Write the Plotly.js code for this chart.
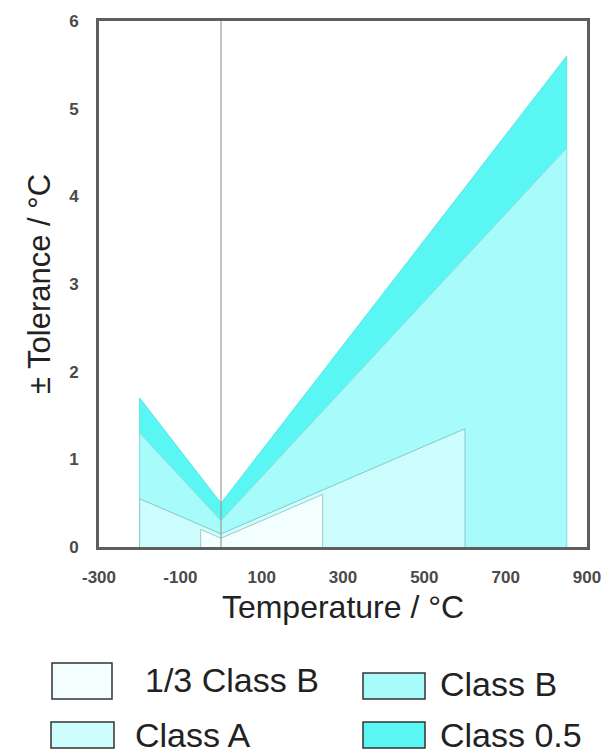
<!DOCTYPE html>
<html>
<head>
<meta charset="utf-8">
<script src="https://cdn.plot.ly/plotly-3.0.1.min.js"></script>
<style>html,body{margin:0;padding:0;background:#fff;}#chart{width:613px;height:753px;}</style>
</head>
<body>
<div id="chart"></div>
<script>
// ---- Data ----
const seriesNames = ["Class 0.5", "Class B", "Class A", "1/3 Class B"];
const class05Temp = [-200, -200, 0, 850, 850];
const class05Tol  = [0, 1.7, 0.5, 5.6, 0];
const classBTemp  = [-200, -200, 0, 850, 850];
const classBTol   = [0, 1.3, 0.3, 4.55, 0];
const classATemp  = [-200, -200, 0, 600, 600];
const classATol   = [0, 0.55, 0.15, 1.35, 0];
const thirdBTemp  = [-50, -50, 0, 250, 250];
const thirdBTol   = [0, 0.2, 0.1, 0.6, 0];
const xTickVals   = [-300, -100, 100, 300, 500, 700, 900];
const xTickText   = ["-300", "-100", "100", "300", "500", "700", "900"];
const yTickVals   = [0, 1, 2, 3, 4, 5, 6];

// ---- Styles ----
const fills = {"Class 0.5": "#5af6f4", "Class B": "#a7fbfb", "Class A": "#cdfdfd", "1/3 Class B": "#f3ffff"};
const edges = {"Class 0.5": "#55e8e6", "Class B": "#92dede", "Class A": "#86c8c8", "1/3 Class B": "#9acccc"};
const FONT = "Liberation Sans, Arial, sans-serif";

function area(name, xs, ys) {
  return {
    type: "scatter", mode: "lines", name: name,
    x: xs, y: ys, fill: "toself",
    fillcolor: fills[name],
    line: {color: edges[name], width: 1},
    hoverinfo: "skip", showlegend: false
  };
}

const traces = [
  area(seriesNames[0], class05Temp, class05Tol),
  area(seriesNames[1], classBTemp, classBTol),
  area(seriesNames[2], classATemp, classATol),
  area(seriesNames[3], thirdBTemp, thirdBTol)
];

// plot area in pixels
const W = 613, H = 753, L = 99, R = 587, T = 21, B = 547;
const px2x = p => (p - L) / (R - L);
const px2y = p => (B - p) / (B - T);

// manual legend
const legendItems = [
  {name: "1/3 Class B", box: [52, 663, 112, 699], tx: 143, ty: 680},
  {name: "Class B",     box: [363, 673, 425, 699], tx: 438, ty: 684},
  {name: "Class A",     box: [51, 722, 114, 748], tx: 133, ty: 735},
  {name: "Class 0.5",   box: [363, 722, 425, 748], tx: 438, ty: 735}
];
const shapes = [
  {type: "line", xref: "x", yref: "paper", x0: 0, x1: 0, y0: 0, y1: 1,
   line: {color: "#9a9a9a", width: 1.2}, layer: "above"}
];
const annotations = [];
legendItems.forEach(it => {
  shapes.push({type: "rect", xref: "paper", yref: "paper",
    x0: px2x(it.box[0]), x1: px2x(it.box[2]), y0: px2y(it.box[3]), y1: px2y(it.box[1]),
    fillcolor: fills[it.name], line: {color: "#333", width: 1.5}});
  annotations.push({xref: "paper", yref: "paper", x: px2x(it.tx), y: px2y(it.ty),
    xanchor: "left", yanchor: "middle", showarrow: false, text: it.name,
    font: {family: FONT, size: 34, color: "#222"}});
});

const layout = {
  width: W, height: H,
  margin: {l: L, r: W - R, t: T, b: H - B, pad: 0},
  paper_bgcolor: "#fff", plot_bgcolor: "#fff",
  showlegend: false,
  font: {family: FONT},
  xaxis: {
    range: [-300, 900], tickvals: xTickVals, ticktext: xTickText,
    showline: true, mirror: true, linecolor: "#5e5e5e", linewidth: 3,
    showgrid: false, zeroline: false,
    ticks: "outside", ticklen: 13, tickcolor: "rgba(0,0,0,0)",
    tickfont: {family: FONT, size: 17, color: "#4a4a4a", weight: "bold"},
    title: {text: "Temperature / °C", font: {family: FONT, size: 32, color: "#222"}, standoff: 10}
  },
  yaxis: {
    range: [0, 6], tickvals: yTickVals,
    showline: true, mirror: true, linecolor: "#5e5e5e", linewidth: 3,
    showgrid: false, zeroline: false,
    ticks: "outside", ticklen: 14, tickcolor: "rgba(0,0,0,0)",
    tickfont: {family: FONT, size: 17, color: "#4a4a4a", weight: "bold"},
    title: {text: "± Tolerance / °C", font: {family: FONT, size: 31, color: "#222"}, standoff: 10}
  },
  shapes: shapes,
  annotations: annotations
};

Plotly.newPlot("chart", traces, layout, {staticPlot: true, displayModeBar: false});
</script>
</body>
</html>
